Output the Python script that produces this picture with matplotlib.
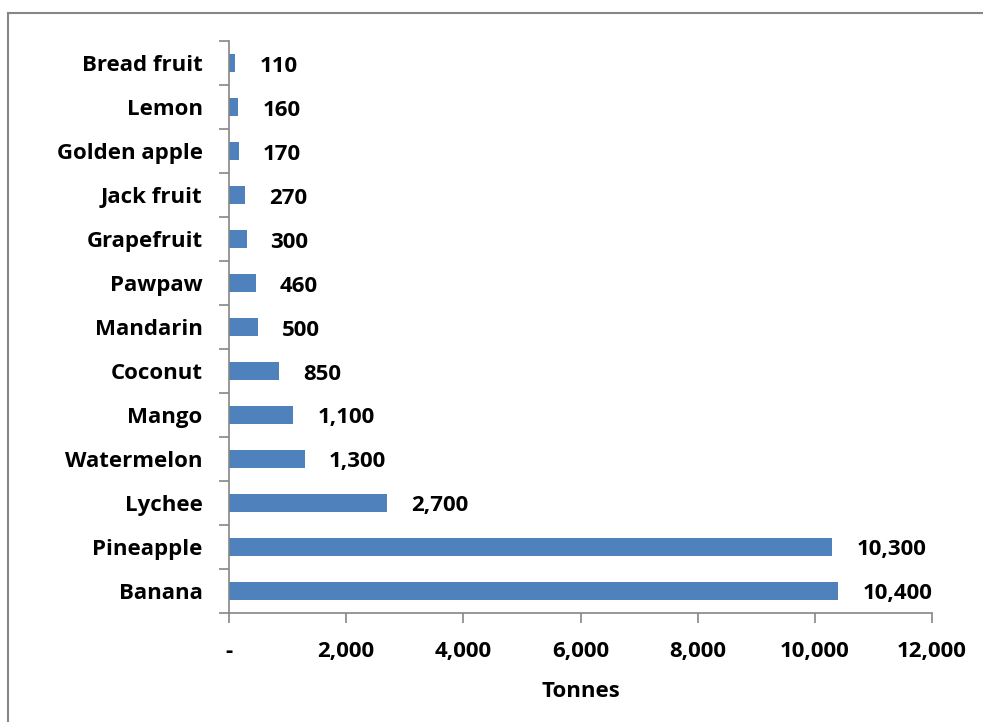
import matplotlib.pyplot as plt
from matplotlib.lines import Line2D

# data, bottom to top
fruits = ['Banana', 'Pineapple', 'Lychee', 'Watermelon', 'Mango', 'Coconut',
          'Mandarin', 'Pawpaw', 'Grapefruit', 'Jack fruit', 'Golden apple',
          'Lemon', 'Bread fruit']
tonnes = [10400, 10300, 2700, 1300, 1100, 850, 500, 460, 300, 270, 170, 160, 110]
x_ticks = [0, 2000, 4000, 6000, 8000, 10000, 12000]
x_tick_labels = ['-', '2,000', '4,000', '6,000', '8,000', '10,000', '12,000']

plt.rcParams['font.family'] = ['Open Sans', 'DejaVu Sans']
plt.rcParams['font.weight'] = 'bold'
fs = 16

fig = plt.figure(figsize=(9.83, 7.22), dpi=100)
ax = fig.add_axes([229 / 983, 1 - 613 / 722, (932 - 229) / 983, (613 - 41) / 722])

bar_color = '#4F81BD'
pos = list(range(len(fruits)))
ax.barh(pos, tonnes, height=0.41, color=bar_color)

for y, v in zip(pos, tonnes):
    ax.annotate(f'{v:,}', (v, y), xytext=(24, -3), textcoords='offset pixels',
                ha='left', va='center', fontsize=fs, fontweight='bold')

ax.set_xlim(0, 12000)
ax.set_ylim(-0.5, len(fruits) - 0.5)
ax.set_xticks(x_ticks)
ax.set_xticklabels(x_tick_labels, fontsize=fs, fontweight='bold')
ax.set_yticks(pos)
ax.set_yticklabels(fruits, fontsize=fs, fontweight='bold')
ax.set_yticks([p - 0.5 for p in pos] + [len(fruits) - 0.5], minor=True)
ax.tick_params(axis='y', which='major', length=0, pad=19)
ax.tick_params(axis='y', which='minor', length=7, color='#868686', width=1.2)
ax.tick_params(axis='x', length=7, color='#868686', width=1.2, pad=13)
ax.set_xlabel('Tonnes', fontsize=fs, fontweight='bold', labelpad=14)

for s in ['top', 'right']:
    ax.spines[s].set_visible(False)
for s in ['left', 'bottom']:
    ax.spines[s].set_color('#868686')
    ax.spines[s].set_linewidth(1.2)

# outer chart border
bx, by = 8 / 983, 1 - 13 / 722
fig.add_artist(Line2D([bx, bx], [by, 0], transform=fig.transFigure, color='#868686', lw=1.5))
fig.add_artist(Line2D([bx, 1], [by, by], transform=fig.transFigure, color='#868686', lw=1.5))

fig.savefig('out.png', dpi=100)
